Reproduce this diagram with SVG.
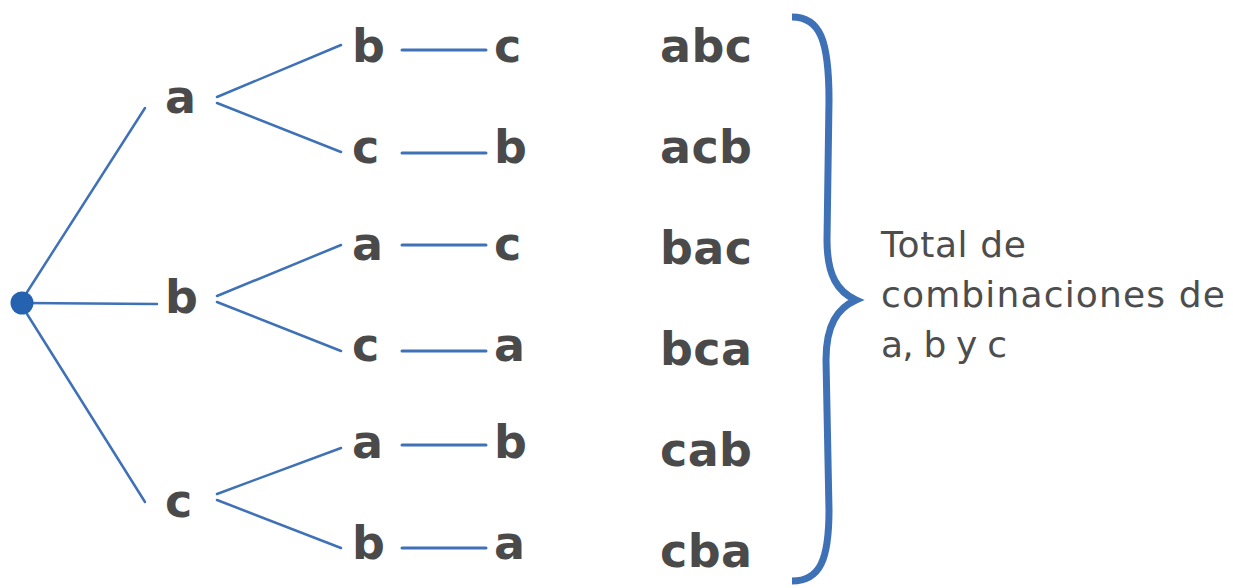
<svg xmlns="http://www.w3.org/2000/svg" width="1233" height="588" viewBox="0 0 1233 588">
<style>
.l{font-family:"DejaVu Sans","Liberation Sans",sans-serif;font-weight:bold;font-size:46px;fill:#4a4a4a}
.t{font-family:"DejaVu Sans","Liberation Sans",sans-serif;font-size:36px;fill:#4d4d4d}
.c line{stroke:#3f71b7;stroke-width:2.5;stroke-linecap:round}
.c line.h{stroke-width:3}
</style>
<rect width="1233" height="588" fill="#ffffff"/>
<g id="connectors" class="c">
<line x1="22" y1="300" x2="145" y2="108"/>
<line x1="22" y1="303" x2="157" y2="304"/>
<line x1="22" y1="306" x2="145" y2="502"/>
<line x1="217" y1="97" x2="341" y2="45"/>
<line x1="217" y1="103" x2="341" y2="152"/>
<line x1="217" y1="296" x2="341" y2="245"/>
<line x1="217" y1="302" x2="341" y2="351"/>
<line x1="217" y1="494" x2="341" y2="448"/>
<line x1="217" y1="500" x2="341" y2="548"/>
<line class="h" x1="402" y1="50" x2="486" y2="50"/>
<line class="h" x1="402" y1="153" x2="486" y2="153"/>
<line class="h" x1="402" y1="245" x2="486" y2="245"/>
<line class="h" x1="402" y1="351" x2="486" y2="351"/>
<line class="h" x1="402" y1="445" x2="486" y2="445"/>
<line class="h" x1="402" y1="548" x2="486" y2="548"/>
</g>
<g id="root"><circle cx="22" cy="303" r="11.5" fill="#2563b0"/></g>
<g id="n-a"><text class="l" x="165" y="113">a</text></g>
<g id="n-b"><text class="l" x="165" y="313">b</text></g>
<g id="n-c"><text class="l" x="165" y="517">c</text></g>
<g id="n-ab"><text class="l" x="352" y="62">b</text></g>
<g id="n-ac"><text class="l" x="352" y="163">c</text></g>
<g id="n-ba"><text class="l" x="352" y="260">a</text></g>
<g id="n-bc"><text class="l" x="352" y="361">c</text></g>
<g id="n-ca"><text class="l" x="352" y="458">a</text></g>
<g id="n-cb"><text class="l" x="352" y="559">b</text></g>
<g id="n-abc"><text class="l" x="494" y="62">c</text></g>
<g id="n-acb"><text class="l" x="494" y="163">b</text></g>
<g id="n-bac"><text class="l" x="494" y="260">c</text></g>
<g id="n-bca"><text class="l" x="494" y="361">a</text></g>
<g id="n-cab"><text class="l" x="494" y="458">b</text></g>
<g id="n-cba"><text class="l" x="494" y="559">a</text></g>
<g id="results">
<text class="l" x="660" y="62" textLength="92">abc</text>
<text class="l" x="660" y="163" textLength="92">acb</text>
<text class="l" x="660" y="264" textLength="92">bac</text>
<text class="l" x="660" y="365" textLength="92">bca</text>
<text class="l" x="660" y="466" textLength="92">cab</text>
<text class="l" x="660" y="567" textLength="92">cba</text>
</g>
<g id="brace">
<path d="M792,17 C820,17 829,40 829,100 L827,240 C827,276 838,292 856,300 C838,308 826,324 826,360 L829,510 C829,560 820,581 792,581" fill="none" stroke="#3f71b7" stroke-width="7"/>
</g>
<g id="label">
<text class="t" x="881" y="257" textLength="145">Total de</text>
<text class="t" x="881" y="307" textLength="344">combinaciones de</text>
<text class="t" x="881" y="357" textLength="126">a, b y c</text>
</g>
</svg>
